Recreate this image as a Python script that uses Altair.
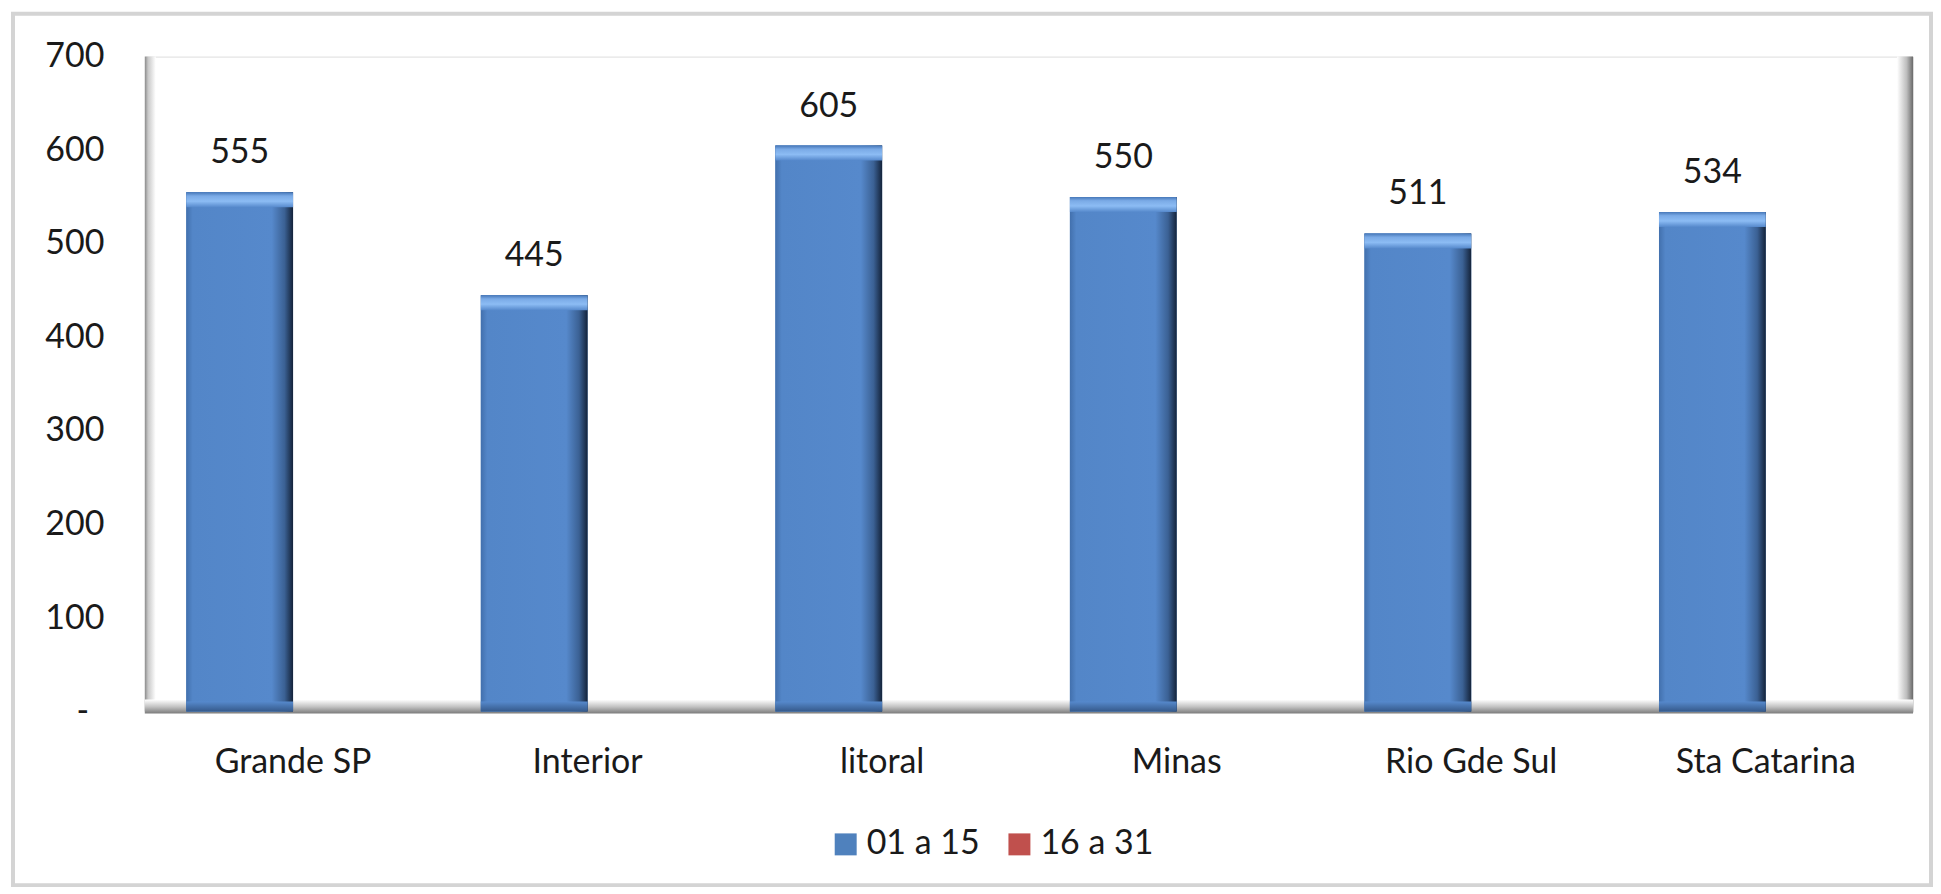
import altair as alt
import pandas as pd

categories = ["Grande SP", "Interior", "litoral", "Minas", "Rio Gde Sul", "Sta Catarina"]
series_names = ["01 a 15", "16 a 31"]
values_01_15 = [555, 445, 605, 550, 511, 534]
values_16_31 = [None, None, None, None, None, None]
y_ticks = [0, 100, 200, 300, 400, 500, 600, 700]
series_colors = ["#4f81bd", "#c0504d"]

rows = []
for c, v1, v2 in zip(categories, values_01_15, values_16_31):
    rows.append({"cat": c, "serie": series_names[0], "valor": v1})
    rows.append({"cat": c, "serie": series_names[1], "valor": v2})
df = pd.DataFrame(rows)

W, H = 1770, 656
FONT = "Lato"
FS = 34

base = alt.Chart(df)

xenc = alt.X(
    "cat:N",
    sort=categories,
    scale=alt.Scale(domain=categories, paddingInner=0.275, paddingOuter=0.1375),
    axis=alt.Axis(title=None, labelAngle=0, labelPadding=51, labelBaseline="middle",
                  domain=False, ticks=False, tickSize=0, labelFontSize=FS,
                  labelFont=FONT, labelColor="#1a1a1a", labelLimit=1000),
)
xoff = alt.XOffset("serie:N", scale=alt.Scale(domain=series_names, paddingInner=0, paddingOuter=0))
yscale = alt.Scale(domain=[0, 700], nice=False)
yenc = alt.Y(
    "valor:Q",
    stack=None,
    scale=yscale,
    axis=alt.Axis(title=None, values=y_ticks, labelPadding=42, tickSize=0, ticks=False,
                  domain=False, grid=False, labelFontSize=FS, labelFont=FONT,
                  labelColor="#1a1a1a",
                  labelExpr="datum.value == 0 ? '' : datum.label"),
)

one = alt.Data(values=[{"k": 1}])

# outer chart frame
frame = alt.Chart(one).mark_rect(fill="white", fillOpacity=0, stroke="#d4d4d4", strokeWidth=4).encode(
    x=alt.value(-133), x2=alt.value(1788), y=alt.value(-43), y2=alt.value(830)
)

# zero tick shown as a dash (accounting format)
zero_dash = alt.Chart(one).mark_text(
    text="-", fontSize=FS, font=FONT, color="#1a1a1a", baseline="middle", align="center"
).encode(x=alt.value(-63), y=alt.Y(datum=0, scale=yscale))

# 3D walls / floor decorations
left_wall = alt.Chart(one).mark_rect(
    fill=alt.Gradient(gradient="linear", x1=0, x2=1, y1=0, y2=0,
                      stops=[alt.GradientStop(offset=0, color="#8a8a8a"),
                             alt.GradientStop(offset=0.3, color="#c8c8c8"),
                             alt.GradientStop(offset=1, color="#ffffff")])
).encode(x=alt.value(-1), x2=alt.value(10), y=alt.value(0), y2=alt.value(H))

right_wall = alt.Chart(one).mark_rect(
    fill=alt.Gradient(gradient="linear", x1=0, x2=1, y1=0, y2=0,
                      stops=[alt.GradientStop(offset=0, color="#ffffff"),
                             alt.GradientStop(offset=0.6, color="#bdbdbd"),
                             alt.GradientStop(offset=1, color="#6a6a6a")])
).encode(x=alt.value(W - 16), x2=alt.value(W), y=alt.value(0), y2=alt.value(H))

floor = alt.Chart(one).mark_rect(
    fill=alt.Gradient(gradient="linear", x1=0, x2=0, y1=0, y2=1,
                      stops=[alt.GradientStop(offset=0, color="#ffffff"),
                             alt.GradientStop(offset=0.5, color="#c4c4c4"),
                             alt.GradientStop(offset=1, color="#7a7a7a")])
).encode(x=alt.value(-1), x2=alt.value(W), y=alt.value(H - 12), y2=alt.value(H + 2))

# bars: solid layer carrying the legend
bars = base.mark_bar().encode(
    x=xenc, xOffset=xoff, y=yenc,
    color=alt.Color("serie:N",
                    scale=alt.Scale(domain=series_names, range=series_colors),
                    legend=alt.Legend(title=None, orient="none", direction="horizontal",
                                      legendX=684, legendY=772, symbolType="square",
                                      symbolSize=484, symbolStrokeWidth=0,
                                      labelFontSize=FS, labelFont=FONT, labelColor="#1a1a1a",
                                      labelOffset=4, columnPadding=22, padding=0)),
)

face = base.mark_bar(
    fill=alt.Gradient(gradient="linear", x1=0, x2=1, y1=0, y2=0,
                      stops=[alt.GradientStop(offset=0, color="#4270ad"),
                             alt.GradientStop(offset=0.06, color="#5386c8"),
                             alt.GradientStop(offset=0.80, color="#5689cc"),
                             alt.GradientStop(offset=0.92, color="#3b6194"),
                             alt.GradientStop(offset=1, color="#14233a")])
).encode(x=xenc, xOffset=xoff, y=yenc).transform_filter("isValid(datum.valor)")

top_bevel = base.mark_bar(
    y2Offset=15,
    fill=alt.Gradient(gradient="linear", x1=0, x2=0, y1=0, y2=1,
                      stops=[alt.GradientStop(offset=0, color="#4677b8"),
                             alt.GradientStop(offset=0.25, color="#7aaae6"),
                             alt.GradientStop(offset=0.6, color="#8cbcf4"),
                             alt.GradientStop(offset=1, color="#5689cc")])
).encode(x=xenc, xOffset=xoff, y=yenc, y2=alt.Y2("valor:Q")).transform_filter("isValid(datum.valor)")

bottom_bevel = base.mark_bar(
    yOffset=-10,
    fill=alt.Gradient(gradient="linear", x1=0, x2=0, y1=0, y2=1,
                      stops=[alt.GradientStop(offset=0, color="#5689cc"),
                             alt.GradientStop(offset=1, color="#35598a")])
).encode(x=xenc, xOffset=xoff, y=alt.Y(datum=0, scale=yscale), y2=alt.Y2(datum=0)).transform_filter("isValid(datum.valor)")

labels = base.mark_text(baseline="alphabetic", dy=-29, fontSize=FS, font=FONT, color="#1a1a1a").encode(
    x=xenc, xOffset=xoff, y=yenc, text=alt.Text("valor:Q", format="d")
).transform_filter("isValid(datum.valor)")

chart = alt.layer(
    frame, zero_dash, left_wall, right_wall, floor, bars, face, top_bevel, bottom_bevel, labels
).properties(
    width=W, height=H,
    padding={"left": 138, "top": 48, "right": 20, "bottom": 175},
    autosize=alt.AutoSizeParams(type="none"),
).configure_view(
    stroke="#dcdcdc", strokeWidth=2
).configure(
    background="white", font=FONT
)

chart.save("out.html", embed_options={"renderer": "svg", "actions": False})
